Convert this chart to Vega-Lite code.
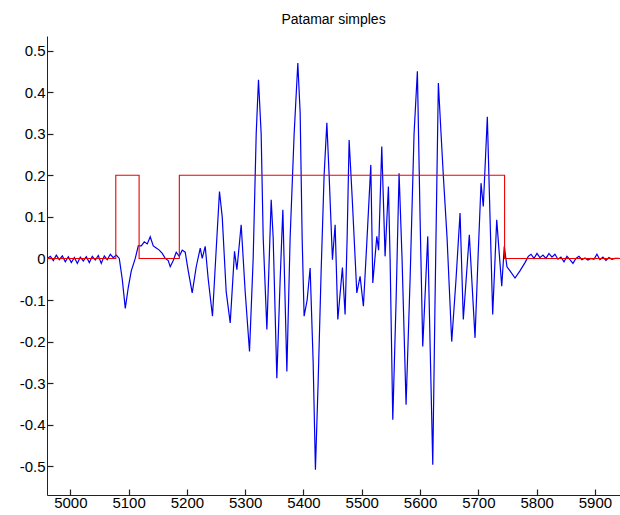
{
  "$schema": "https://vega.github.io/schema/vega-lite/v6.json",
  "width": 573,
  "height": 459,
  "autosize": {"type": "none"},
  "padding": {"left": 47, "top": 36, "right": 0, "bottom": 20},
  "background": "white",
  "title": {"text": "Patamar simples", "font": "Liberation Sans", "fontSize": 14, "fontWeight": "normal", "color": "black", "offset": 9, "anchor": "middle"},
  "config": {
    "view": {"stroke": null},
    "axis": {"grid": false, "domainColor": "#222222", "tickColor": "#222222", "labelColor": "black", "labelFont": "Liberation Sans", "labelFontSize": 15, "title": null, "ticks": true, "tickSize": -6, "domainWidth": 1, "tickWidth": 1.2}
  },
  "datasets": {
    "blue": [
      {"x": 4960.6, "y": 0}, {"x": 4965.7, "y": 0.005}, {"x": 4970.9, "y": -0.005}, {"x": 4976, "y": 0.008}, {"x": 4981.1, "y": -0.003},
      {"x": 4986.3, "y": 0.006}, {"x": 4991.4, "y": -0.008}, {"x": 4996.6, "y": 0.004}, {"x": 5001.7, "y": -0.01}, {"x": 5006.9, "y": 0.002},
      {"x": 5012, "y": -0.012}, {"x": 5017.1, "y": 0.003}, {"x": 5022.3, "y": -0.006}, {"x": 5027.4, "y": 0.004}, {"x": 5032.6, "y": -0.01},
      {"x": 5037.7, "y": 0.005}, {"x": 5042.9, "y": -0.004}, {"x": 5048, "y": 0.007}, {"x": 5053.1, "y": -0.012}, {"x": 5058.3, "y": 0.006},
      {"x": 5063.4, "y": -0.003}, {"x": 5068.6, "y": 0.01}, {"x": 5073.7, "y": 0.002}, {"x": 5078.9, "y": 0.008}, {"x": 5084, "y": 0.0},
      {"x": 5089.1, "y": -0.05}, {"x": 5094.3, "y": -0.12}, {"x": 5099.4, "y": -0.07}, {"x": 5104.6, "y": -0.03}, {"x": 5111.4, "y": 0.0},
      {"x": 5116.6, "y": 0.03}, {"x": 5121.7, "y": 0.03}, {"x": 5126.9, "y": 0.04}, {"x": 5132, "y": 0.035}, {"x": 5137.1, "y": 0.052},
      {"x": 5142.3, "y": 0.03}, {"x": 5147.4, "y": 0.025}, {"x": 5152.6, "y": 0.02}, {"x": 5157.7, "y": 0.012}, {"x": 5162.9, "y": 0.0},
      {"x": 5168, "y": -0.005}, {"x": 5171.4, "y": -0.02}, {"x": 5176.6, "y": -0.005}, {"x": 5181.7, "y": 0.015}, {"x": 5186.9, "y": 0.005},
      {"x": 5192, "y": 0.02}, {"x": 5197.1, "y": 0.015}, {"x": 5202.3, "y": -0.03}, {"x": 5209.1, "y": -0.083}, {"x": 5216, "y": -0.02},
      {"x": 5222.9, "y": 0.025}, {"x": 5226.3, "y": 0.0}, {"x": 5231.4, "y": 0.029}, {"x": 5236.6, "y": -0.05}, {"x": 5243.9, "y": -0.139},
      {"x": 5248.6, "y": -0.02}, {"x": 5255.9, "y": 0.161}, {"x": 5260.6, "y": 0.1}, {"x": 5267.4, "y": -0.08}, {"x": 5274.3, "y": -0.155},
      {"x": 5281.7, "y": 0.017}, {"x": 5285.8, "y": -0.027}, {"x": 5293.1, "y": 0.081}, {"x": 5300, "y": -0.08}, {"x": 5307.4, "y": -0.224},
      {"x": 5313.7, "y": 0.0}, {"x": 5318.9, "y": 0.3}, {"x": 5322.8, "y": 0.43}, {"x": 5327.4, "y": 0.3}, {"x": 5330.9, "y": 0.05},
      {"x": 5337.2, "y": -0.171}, {"x": 5344.6, "y": 0.141}, {"x": 5348, "y": 0.05}, {"x": 5354.3, "y": -0.288}, {"x": 5360, "y": -0.05},
      {"x": 5364.6, "y": 0.117}, {"x": 5371.5, "y": -0.272}, {"x": 5377.1, "y": 0.05}, {"x": 5384, "y": 0.3}, {"x": 5390.3, "y": 0.47},
      {"x": 5394.3, "y": 0.35}, {"x": 5397.7, "y": 0.05}, {"x": 5401.1, "y": -0.139}, {"x": 5406.3, "y": -0.1}, {"x": 5411.4, "y": -0.023},
      {"x": 5416.6, "y": -0.25}, {"x": 5420.5, "y": -0.508}, {"x": 5425.1, "y": -0.3}, {"x": 5430.3, "y": -0.03}, {"x": 5435.4, "y": 0.2},
      {"x": 5440.1, "y": 0.326}, {"x": 5444, "y": 0.2}, {"x": 5449.7, "y": -0.003}, {"x": 5454.3, "y": 0.081}, {"x": 5458.9, "y": -0.147},
      {"x": 5466.8, "y": -0.022}, {"x": 5471.4, "y": -0.135}, {"x": 5474.9, "y": 0.05}, {"x": 5478.3, "y": 0.285}, {"x": 5483.4, "y": 0.15},
      {"x": 5491.5, "y": -0.083}, {"x": 5497.1, "y": -0.043}, {"x": 5502.8, "y": -0.115}, {"x": 5509.1, "y": 0.05}, {"x": 5515.5, "y": 0.225},
      {"x": 5518.9, "y": -0.059}, {"x": 5525.8, "y": 0.053}, {"x": 5528.9, "y": 0.02}, {"x": 5534.3, "y": 0.269}, {"x": 5540, "y": 0.005},
      {"x": 5545.7, "y": 0.173}, {"x": 5548.6, "y": 0.0}, {"x": 5553.2, "y": -0.388}, {"x": 5558.9, "y": -0.1}, {"x": 5564, "y": 0.205},
      {"x": 5569.1, "y": 0.0}, {"x": 5576, "y": -0.352}, {"x": 5582.9, "y": -0.05}, {"x": 5589.7, "y": 0.3}, {"x": 5595.4, "y": 0.45},
      {"x": 5600, "y": 0.1}, {"x": 5604.6, "y": -0.212}, {"x": 5613.2, "y": 0.053}, {"x": 5617.1, "y": -0.2}, {"x": 5621.8, "y": -0.496},
      {"x": 5625.7, "y": -0.1}, {"x": 5631.4, "y": 0.422}, {"x": 5636, "y": 0.3}, {"x": 5640, "y": 0.197}, {"x": 5646.3, "y": 0.05},
      {"x": 5654.3, "y": -0.2}, {"x": 5661.7, "y": -0.05}, {"x": 5668.6, "y": 0.109}, {"x": 5674.2, "y": -0.147}, {"x": 5684.5, "y": 0.057},
      {"x": 5694.3, "y": -0.191}, {"x": 5699.4, "y": 0.0}, {"x": 5704.6, "y": 0.181}, {"x": 5708.5, "y": 0.125}, {"x": 5715.4, "y": 0.341},
      {"x": 5720, "y": 0.1}, {"x": 5724.6, "y": -0.135}, {"x": 5731.5, "y": 0.093}, {"x": 5740.1, "y": -0.067}, {"x": 5744.5, "y": 0.029},
      {"x": 5749.1, "y": -0.02}, {"x": 5754.3, "y": -0.03}, {"x": 5762.9, "y": -0.047}, {"x": 5771.4, "y": -0.03}, {"x": 5780, "y": -0.01},
      {"x": 5785.7, "y": 0.005}, {"x": 5790.3, "y": 0.01}, {"x": 5795.4, "y": 0.0}, {"x": 5800.6, "y": 0.012}, {"x": 5805.7, "y": 0.002},
      {"x": 5810.9, "y": 0.008}, {"x": 5816, "y": 0.0}, {"x": 5821.1, "y": 0.012}, {"x": 5826.3, "y": 0.003}, {"x": 5831.4, "y": 0.01},
      {"x": 5836.6, "y": -0.002}, {"x": 5841.7, "y": 0.003}, {"x": 5846.9, "y": -0.008}, {"x": 5852, "y": 0.005}, {"x": 5857.1, "y": -0.003},
      {"x": 5862.3, "y": -0.012}, {"x": 5867.4, "y": 0.0}, {"x": 5872.6, "y": 0.005}, {"x": 5877.7, "y": -0.003}, {"x": 5882.9, "y": 0.001},
      {"x": 5888, "y": -0.004}, {"x": 5893.1, "y": 0.0}, {"x": 5898.3, "y": -0.002}, {"x": 5903.4, "y": 0.01}, {"x": 5908.6, "y": -0.003},
      {"x": 5913.7, "y": 0.003}, {"x": 5918.9, "y": -0.005}, {"x": 5924, "y": 0.002}, {"x": 5929.1, "y": -0.002}, {"x": 5934.3, "y": 0.0},
      {"x": 5941.1, "y": 0.0}
    ],
    "red": [
      {"x": 4960, "y": 0}, {"x": 5078, "y": 0.2}, {"x": 5118, "y": 0}, {"x": 5187, "y": 0.2}, {"x": 5745, "y": 0}, {"x": 5943, "y": 0}
    ]
  },
  "encoding": {
    "x": {"field": "x", "type": "quantitative",
      "scale": {"domain": [4960, 5943], "nice": false, "zero": false},
      "axis": {"values": [5000, 5100, 5200, 5300, 5400, 5500, 5600, 5700, 5800, 5900], "format": "d", "labelPadding": 6}},
    "y": {"field": "y", "type": "quantitative",
      "scale": {"domain": [-0.569, 0.535], "nice": false, "zero": false},
      "axis": {"values": [-0.5, -0.4, -0.3, -0.2, -0.1, 0, 0.1, 0.2, 0.3, 0.4, 0.5],
        "labelExpr": "datum.value == 0 ? '0' : (datum.value < 0 ? '-' + format(-datum.value, '.1f') : format(datum.value, '.1f'))", "labelPadding": 8}}
  },
  "layer": [
    {"data": {"name": "blue"}, "mark": {"type": "line", "color": "#0000ee", "strokeWidth": 1.2, "clip": true}},
    {"data": {"name": "red"}, "mark": {"type": "line", "color": "#ee0000", "strokeWidth": 1.1, "interpolate": "step-after", "clip": true}}
  ]
}
